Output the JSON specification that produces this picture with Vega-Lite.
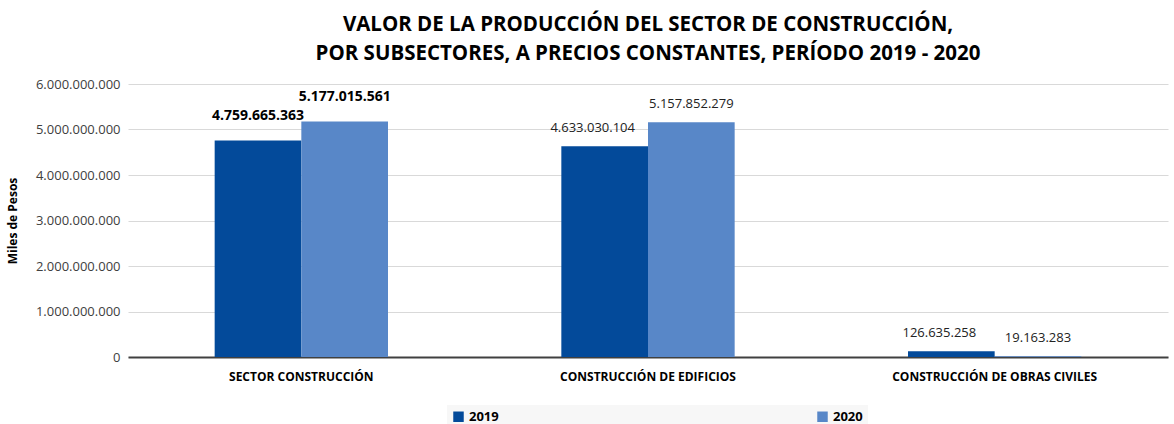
{
  "$schema": "https://vega.github.io/schema/vega-lite/v6.json",
  "width": 1040,
  "height": 273,
  "padding": {"left": 6, "right": 4, "top": 14, "bottom": 0},
  "background": "white",
  "title": {
    "text": ["VALOR DE LA PRODUCCIÓN DEL SECTOR DE CONSTRUCCIÓN,", "POR SUBSECTORES, A PRECIOS CONSTANTES, PERÍODO 2019 - 2020"],
    "font": "Open Sans",
    "fontSize": 20.5,
    "fontWeight": "bold",
    "color": "#000000",
    "anchor": "middle",
    "lineHeight": 29,
    "offset": 14
  },
  "config": {
    "locale": {"number": {"decimal": ",", "thousands": ".", "grouping": [3], "currency": ["$", ""]}},
    "view": {"stroke": null},
    "font": "Open Sans"
  },
  "data": {
    "values": [
      {"sector": "SECTOR CONSTRUCCIÓN", "year": "2019", "value": 4759665363},
      {"sector": "SECTOR CONSTRUCCIÓN", "year": "2020", "value": 5177015561},
      {"sector": "CONSTRUCCIÓN DE EDIFICIOS", "year": "2019", "value": 4633030104},
      {"sector": "CONSTRUCCIÓN DE EDIFICIOS", "year": "2020", "value": 5157852279},
      {"sector": "CONSTRUCCIÓN DE OBRAS CIVILES", "year": "2019", "value": 126635258},
      {"sector": "CONSTRUCCIÓN DE OBRAS CIVILES", "year": "2020", "value": 19163283}
    ]
  },
  "encoding": {
    "x": {
      "field": "sector", "type": "nominal", "sort": null,
      "scale": {"paddingInner": 0.0, "paddingOuter": 0.0},
      "axis": {"title": null, "labelAngle": 0, "labelFontWeight": "bold", "labelFontSize": 12, "labelColor": "#000000", "labelPadding": 14, "labelLimit": 400, "ticks": false, "domainColor": "#404040", "domainWidth": 2}
    },
    "xOffset": {"field": "year", "type": "nominal", "scale": {"paddingInner": 0, "paddingOuter": 1.0}},
    "y": {
      "field": "value", "type": "quantitative",
      "scale": {"domain": [0, 6000000000]},
      "axis": {"title": "Miles de Pesos", "titleFontSize": 12, "titleFontWeight": "bold", "titleColor": "#000000", "titlePadding": 16, "format": ",d", "values": [0, 1000000000, 2000000000, 3000000000, 4000000000, 5000000000, 6000000000], "labelOverlap": false, "labelFontSize": 13, "labelColor": "#404040", "labelPadding": 8, "ticks": false, "domain": false, "gridColor": "#d9d9d9"}
    }
  },
  "layer": [
    {
      "mark": {"type": "bar"},
      "encoding": {
        "color": {
          "field": "year", "type": "nominal",
          "scale": {"domain": ["2019", "2020"], "range": ["#034a9a", "#5887c8"]},
          "legend": {"title": null, "orient": "none", "legendX": 319, "legendY": 321, "direction": "horizontal", "symbolType": "square", "symbolSize": 110, "labelFontWeight": "bold", "labelFontSize": 13, "labelColor": "#000000", "columnPadding": 317, "fillColor": "#f7f7f7", "padding": 5}
        }
      }
    },
    {
      "transform": [{"filter": "datum.sector === 'SECTOR CONSTRUCCIÓN'"}],
      "mark": {"type": "text", "dy": -24, "fontSize": 14, "fontWeight": "bold", "color": "#000000"},
      "encoding": {"text": {"field": "value", "type": "quantitative", "format": ",d"}}
    },
    {
      "transform": [{"filter": "datum.sector !== 'SECTOR CONSTRUCCIÓN' && datum.year === '2019'"}],
      "mark": {"type": "text", "dy": -18, "dx": -12, "fontSize": 13, "color": "#222222"},
      "encoding": {"text": {"field": "value", "type": "quantitative", "format": ",d"}}
    },
    {
      "transform": [{"filter": "datum.sector !== 'SECTOR CONSTRUCCIÓN' && datum.year === '2020'"}],
      "mark": {"type": "text", "dy": -18, "fontSize": 13, "color": "#222222"},
      "encoding": {"text": {"field": "value", "type": "quantitative", "format": ",d"}}
    }
  ]
}
